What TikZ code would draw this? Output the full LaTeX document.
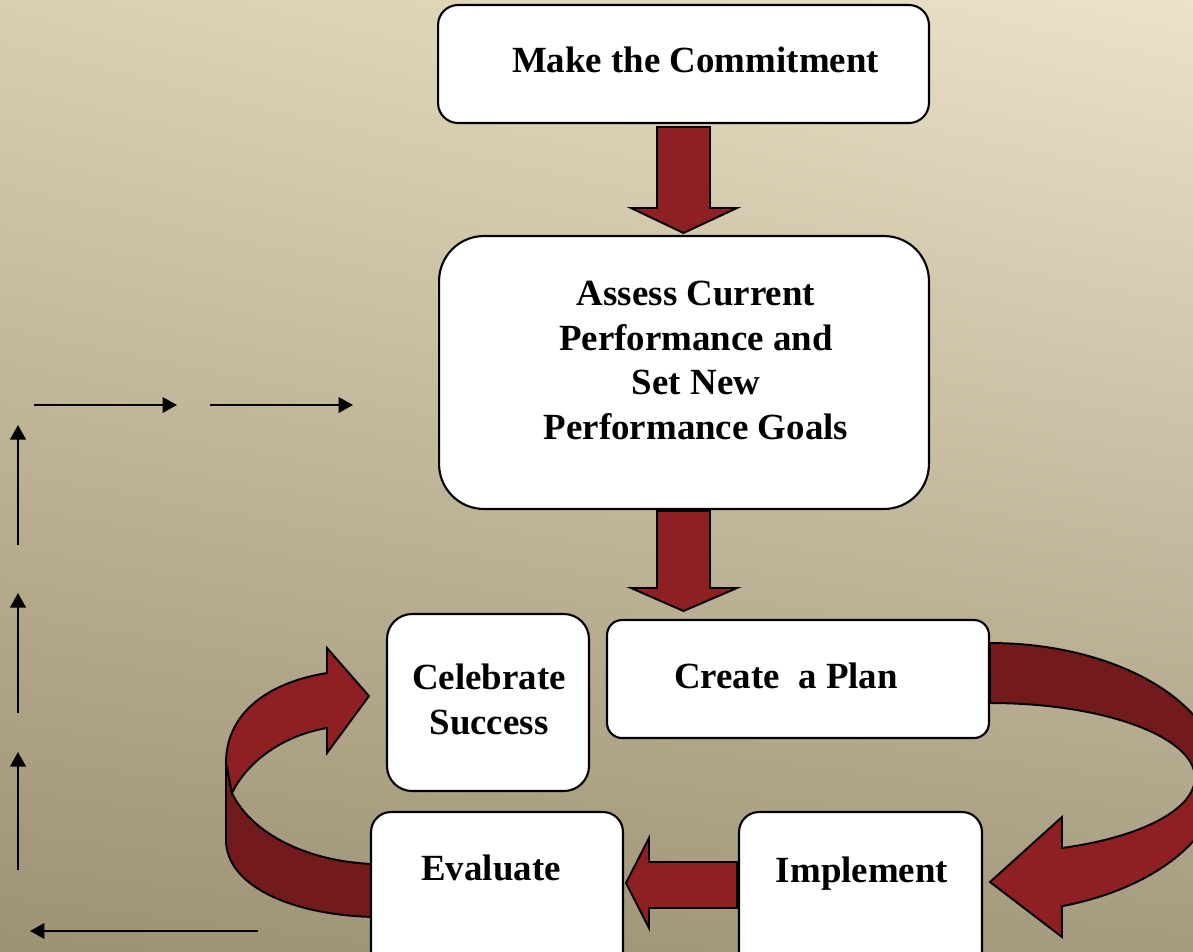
\documentclass[tikz,border=0pt]{standalone}
\usepackage{fontspec}
\setmainfont{Liberation Serif}
\usetikzlibrary{arrows.meta,shadings}

\definecolor{arrowred}{HTML}{8E2024}
\definecolor{arrowdark}{HTML}{731A1C}
\definecolor{bgul}{HTML}{D8CEB0}
\definecolor{bgur}{HTML}{EBE2C8}
\definecolor{bgll}{HTML}{9E9275}
\definecolor{bglr}{HTML}{A69B7F}

\tikzset{
  stepbox/.style={draw,line width=1.2pt,fill=white,rounded corners=#1,inner sep=0pt},
  stepbox/.default=0.3cm,
  steptext/.style={inner sep=0pt,align=center,font=\bfseries\fontsize{21}{25.5}\selectfont},
  blockarrow/.style={draw,line width=1.1pt,fill=arrowred},
  thinarrow/.style={-{Triangle[length=0.29cm,width=0.31cm]},line width=1.3pt}
}

\begin{document}
\begin{tikzpicture}[x=0.02cm,y=0.02cm]
   \useasboundingbox (0,0) rectangle (1193,-951);
   \clip (0,0) rectangle (1193,-951);
   \shade[upper left=bgul,upper right=bgur,lower left=bgll,lower right=bglr]
      (0,0) rectangle (1193,-951);

   % curved arrow on the right
   \draw[line width=1.1pt,fill=arrowdark] (990,-643)
      arc[start angle=90,end angle=0,x radius=4.6cm,y radius=2.7cm]
      -- (1195,-778)
      arc[start angle=0,end angle=90,x radius=4.1cm,y radius=1.5cm] -- cycle;
   \draw[blockarrow] (1220,-778)
      arc[start angle=0,end angle=-71.8,x radius=4.6cm,y radius=2.7cm]
      -- (1062,-937) -- (990,-882) -- (1062,-817) -- (1062,-848)
      arc[start angle=-69.4,end angle=0,x radius=4.1cm,y radius=1.5cm] -- cycle;

   % curved arrow on the left
   \draw[line width=1.1pt,fill=arrowdark] (226,-763) -- (232,-793)
      .. controls (252,-835) and (310,-862) .. (374,-864) -- (374,-917)
      .. controls (290,-915) and (226,-885) .. (226,-840) -- cycle;
   \draw[blockarrow] (226,-763) .. controls (226,-715) and (265,-683) .. (327,-673)
      -- (327,-648) -- (369,-696) -- (327,-753) -- (327,-728)
      .. controls (285,-735) and (248,-760) .. (232,-793) -- cycle;

   % boxes
   \node (make) at (683.5,-64) [stepbox=0.4cm,minimum width=9.82cm,minimum height=2.36cm] {};
   \node (assess) at (684,-372.5) [stepbox=0.9cm,minimum width=9.8cm,minimum height=5.46cm] {};
   \node (celebrate) at (488,-702.5) [stepbox=0.5cm,minimum width=4.04cm,minimum height=3.54cm] {};
   \node (plan) at (798,-679) [stepbox,minimum width=7.64cm,minimum height=2.36cm] {};
   \node (evaluate) at (497,-901) [stepbox=0.4cm,minimum width=5.04cm,minimum height=3.56cm] {};
   \node (implement) at (860.5,-901) [stepbox=0.4cm,minimum width=4.86cm,minimum height=3.56cm] {};

   % box texts
   \node (maketext) at (695.5,-60) [steptext] {Make the Commitment};
   \node (assesstext) at (696,-360.5) [steptext]
      {Assess Current\\Performance and\\Set New\\Performance Goals};
   \node (celebratetext) at (489,-699.5) [steptext] {Celebrate\\Success};
   \node (plantext) at (786,-676) [steptext] {Create\ \ a Plan};
   \node (evaluatetext) at (491,-868) [steptext] {Evaluate};
   \node (implementtext) at (862,-874) [steptext] {Implement};

   % straight block arrows
   \draw[blockarrow] (657,-127) -- (710,-127) -- (710,-208) -- (737,-208)
      -- (683.5,-233) -- (631,-208) -- (657,-208) -- cycle;
   \draw[blockarrow] (657,-511) -- (710,-511) -- (710,-588) -- (737,-588)
      -- (683.5,-611) -- (631,-588) -- (657,-588) -- cycle;
   \draw[blockarrow] (737,-862) -- (649,-862) -- (649,-838) -- (626,-883)
      -- (649,-928) -- (649,-908) -- (737,-908) -- cycle;

   % thin arrows at the left
   \coordinate (top1a) at (34,-405);
   \coordinate (top1b) at (177,-405);
   \coordinate (top2a) at (210,-405);
   \coordinate (top2b) at (353,-405);
   \coordinate (up1a) at (18,-545);
   \coordinate (up1b) at (18,-425);
   \coordinate (up2a) at (18,-713);
   \coordinate (up2b) at (18,-593);
   \coordinate (up3a) at (18,-870);
   \coordinate (up3b) at (18,-752);
   \coordinate (bota) at (258,-931);
   \coordinate (botb) at (30,-931);
   \draw[thinarrow] (top1a) -- (top1b);
   \draw[thinarrow] (top2a) -- (top2b);
   \draw[thinarrow] (up1a) -- (up1b);
   \draw[thinarrow] (up2a) -- (up2b);
   \draw[thinarrow] (up3a) -- (up3b);
   \draw[thinarrow] (bota) -- (botb);
\end{tikzpicture}
\end{document}
